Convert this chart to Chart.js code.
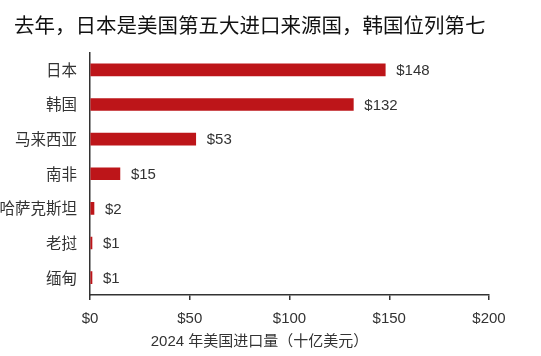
<!DOCTYPE html>
<html><head><meta charset="utf-8">
<script src="https://cdn.jsdelivr.net/npm/chart.js@4/dist/chart.umd.min.js"></script>
<style>html,body{margin:0;padding:0;background:#fff}#wrap{width:541px;height:356px;position:relative}</style>
</head><body><div id="wrap"><canvas id="c"></canvas></div>
<script>
const titleText = '去年，日本是美国第五大进口来源国，韩国位列第七';
const xAxisTitle = '2024 年美国进口量（十亿美元）';
const categories = ['日本','韩国','马来西亚','南非','哈萨克斯坦','老挝','缅甸'];
const importValues = [148, 132, 53, 15, 2, 1, 1];
const xTicks = [0, 50, 100, 150, 200];

const FONT = "'Liberation Sans', 'Noto Sans CJK SC', sans-serif";
const CJK = "'Noto Sans CJK SC', 'Liberation Sans', sans-serif";
const TXT = '#333';

const valueLabels = {
  id: 'valueLabels',
  afterDatasetsDraw(chart) {
    const ctx = chart.ctx;
    const meta = chart.getDatasetMeta(0);
    ctx.save();
    ctx.font = '15px ' + FONT;
    ctx.fillStyle = TXT;
    ctx.textAlign = 'left';
    ctx.textBaseline = 'middle';
    meta.data.forEach((el, i) => {
      ctx.fillText('$' + importValues[i], el.x + 11, el.y + 1);
    });
    ctx.restore();
  }
};
const texts = {
  id: 'texts',
  afterDraw(chart) {
    const ctx = chart.ctx;
    const xs = chart.scales.x;
    ctx.save();
    ctx.fillStyle = '#111';
    ctx.textAlign = 'left';
    ctx.textBaseline = 'middle';
    ctx.font = '20.5px ' + CJK;
    ctx.fillText(titleText, 14, 25);
    ctx.font = '15px ' + FONT;
    ctx.fillStyle = TXT;
    ctx.textAlign = 'center';
    ctx.fillText(xAxisTitle, (xs.left + xs.right) / 2 - 30, xs.bottom + 4);
    ctx.restore();
  }
};

new Chart(document.getElementById('c'), {
  type: 'bar',
  data: {
    labels: categories,
    datasets: [{
      data: importValues,
      backgroundColor: '#bd1519',
      barThickness: 12,
      borderWidth: 0
    }]
  },
  options: {
    indexAxis: 'y',
    responsive: true,
    maintainAspectRatio: false,
    animation: false,
    layout: { padding: { left: 0, right: 52, top: 52.5, bottom: 18 } },
    plugins: {
      legend: { display: false },
      tooltip: { enabled: false },
      title: { display: false }
    },
    scales: {
      x: {
        min: 0, max: 200,
        afterBuildTicks(scale) { scale.ticks = xTicks.map(v => ({ value: v })); },
        grid: { display: true, drawOnChartArea: false, drawTicks: true, tickLength: 5, color: '#333', lineWidth: 1.5 },
        border: { display: true, color: '#333', width: 1.5 },
        ticks: { color: TXT, padding: 10, font: { family: FONT, size: 15 }, callback: v => '$' + v, maxRotation: 0 }
      },
      y: {
        afterFit(scale) { scale.width = 90; },
        grid: { display: false, drawTicks: false },
        border: { display: true, color: '#333', width: 1.5 },
        ticks: { color: TXT, padding: 13, font: { family: CJK, size: 15.5 } }
      }
    }
  },
  plugins: [valueLabels, texts]
});
</script></body></html>
